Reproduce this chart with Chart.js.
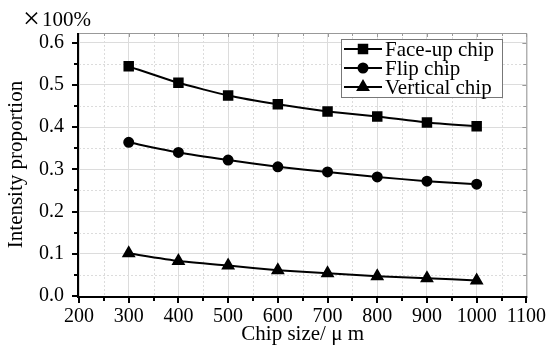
<!DOCTYPE html>
<html>
<head>
<meta charset="utf-8">
<script src="https://cdn.jsdelivr.net/npm/chart.js@4/dist/chart.umd.min.js"></script>
<style>
  html, body { margin: 0; padding: 0; background: #fff; }
  #wrap { width: 555px; height: 347px; }
</style>
</head>
<body>
<div id="wrap"><canvas id="Chart"></canvas></div>
<script>
// Data
const chipSizes = [300, 400, 500, 600, 700, 800, 900, 1000];
const faceUp = [0.544, 0.505, 0.475, 0.454, 0.437, 0.425, 0.411, 0.402];
const flipChip = [0.364, 0.340, 0.322, 0.306, 0.294, 0.282, 0.272, 0.265];
const verticalChip = [0.101, 0.083, 0.072, 0.061, 0.054, 0.047, 0.042, 0.037];
const seriesNames = ['Face-up chip', 'Flip chip', 'Vertical chip'];
const xTicks = [200, 300, 400, 500, 600, 700, 800, 900, 1000, 1100];
const yTicks = [0.0, 0.1, 0.2, 0.3, 0.4, 0.5, 0.6];

const FONT = '"Liberation Serif", "Times New Roman", serif';

function pts(ys) {
  return chipSizes.map((x, i) => ({ x: x, y: ys[i] }));
}

function series(label, ys, style, radius) {
  return {
    label: label,
    data: pts(ys),
    borderColor: '#000',
    backgroundColor: '#000',
    borderWidth: 2,
    pointStyle: style,
    pointRadius: radius,
    pointHoverRadius: radius,
    tension: 0.15
  };
}

// frame, minor grid, ticks, legend, extra labels
const decor = {
  id: 'decor',
  beforeDatasetsDraw(chart) {
    const { ctx, chartArea: a, scales: { x, y } } = chart;
    ctx.save();
    ctx.strokeStyle = '#dcdcdc';
    ctx.lineWidth = 1;
    ctx.setLineDash([2, 2]);
    for (let v = 250; v < 1100; v += 100) {
      const px = Math.round(x.getPixelForValue(v)) + 0.5;
      ctx.beginPath(); ctx.moveTo(px, a.top); ctx.lineTo(px, a.bottom); ctx.stroke();
    }
    for (let v = 0.05; v < 0.62; v += 0.1) {
      const py = Math.round(y.getPixelForValue(v)) + 0.5;
      ctx.beginPath(); ctx.moveTo(a.left, py); ctx.lineTo(a.right, py); ctx.stroke();
    }
    ctx.restore();
  },
  afterDraw(chart) {
    const { ctx, chartArea: a, scales: { x, y } } = chart;
    ctx.save();
    // top / right frame in gray
    ctx.strokeStyle = '#999';
    ctx.lineWidth = 1;
    ctx.beginPath();
    ctx.moveTo(a.left, a.top + 0.5); ctx.lineTo(a.right + 0.5, a.top + 0.5);
    ctx.lineTo(a.right + 0.5, a.bottom);
    ctx.stroke();
    // inward gray ticks on top and right
    for (let v = 250; v <= 1100; v += 50) {
      const px = Math.round(x.getPixelForValue(v)) + 0.5;
      ctx.beginPath(); ctx.moveTo(px, a.top); ctx.lineTo(px, a.top + (v % 100 === 0 ? 4 : 3)); ctx.stroke();
    }
    for (let i = 1; i <= 12; i++) {
      const v = i * 0.05;
      const py = Math.round(y.getPixelForValue(v)) + 0.5;
      ctx.beginPath(); ctx.moveTo(a.right, py); ctx.lineTo(a.right - (i % 2 === 0 ? 4 : 3), py); ctx.stroke();
    }
    // black left / bottom axes with outward ticks
    ctx.strokeStyle = '#000';
    ctx.lineWidth = 2;
    ctx.beginPath();
    ctx.moveTo(a.left - 1, a.top); ctx.lineTo(a.left - 1, a.bottom + 1); ctx.lineTo(a.right + 1, a.bottom + 1);
    ctx.stroke();
    for (let v = 200; v <= 1100; v += 50) {
      const px = Math.round(x.getPixelForValue(v));
      ctx.beginPath(); ctx.moveTo(px, a.bottom); ctx.lineTo(px, a.bottom + (v % 100 === 0 ? 7 : 5)); ctx.stroke();
    }
    for (let i = 0; i <= 12; i++) {
      const v = i * 0.05;
      const py = Math.round(y.getPixelForValue(v));
      ctx.beginPath(); ctx.moveTo(a.left, py); ctx.lineTo(a.left - (i % 2 === 0 ? 7 : 5), py); ctx.stroke();
    }

    // legend
    const lx = 341, ly = 39, lw = 161, lh = 58;
    ctx.fillStyle = '#fff';
    ctx.fillRect(lx, ly, lw, lh);
    ctx.strokeStyle = '#777';
    ctx.lineWidth = 1;
    ctx.strokeRect(lx + 0.5, ly + 0.5, lw, lh);
    ctx.font = '21px ' + FONT;
    ctx.textBaseline = 'middle';
    ctx.textAlign = 'left';
    chart.data.datasets.forEach((ds, i) => {
      const cy = ly + 10 + i * 19;
      ctx.strokeStyle = '#000';
      ctx.lineWidth = 2;
      ctx.beginPath(); ctx.moveTo(lx + 3, cy); ctx.lineTo(lx + 41, cy); ctx.stroke();
      ctx.fillStyle = '#000';
      Chart.helpers.drawPoint(ctx, { pointStyle: ds.pointStyle, radius: ds.pointRadius, rotation: 0, borderWidth: 1 }, lx + 22, cy);
      ctx.fillText(ds.label, lx + 44, cy + 1);
    });

    // unit label
    ctx.fillStyle = '#000';
    ctx.textAlign = 'left';
    ctx.textBaseline = 'alphabetic';
    ctx.font = '30px ' + FONT;
    ctx.fillText('\u00d7', 23, 28);
    ctx.font = '21px ' + FONT;
    ctx.fillText('100%', 42, 26);
    ctx.restore();
  }
};

const config = {
  type: 'line',
  data: {
    datasets: [
      series(seriesNames[0], faceUp, 'rect', 6),
      series(seriesNames[1], flipChip, 'circle', 4.5),
      series(seriesNames[2], verticalChip, 'triangle', 6)
    ]
  },
  options: {
    responsive: true,
    maintainAspectRatio: false,
    animation: false,
    layout: { padding: { top: 33, right: 28, left: 4, bottom: 0 } },
    plugins: {
      legend: { display: false },
      tooltip: { enabled: false }
    },
    scales: {
      x: {
        type: 'linear',
        min: 200,
        max: 1100,
        afterBuildTicks: s => { s.ticks = xTicks.map(v => ({ value: v })); },
        afterFit: s => { s.height = 51; },
        grid: { color: '#dcdcdc', drawTicks: false, lineWidth: 1 },
        border: { display: false },
        ticks: { color: '#000', padding: 9, maxRotation: 0, font: { family: FONT, size: 20 }, callback: v => String(v) },
        title: { display: true, text: 'Chip size/ \u03bc m', color: '#000', padding: { top: 0, bottom: 0 }, font: { family: FONT, size: 21 } }
      },
      y: {
        type: 'linear',
        min: 0,
        max: 0.623,
        afterBuildTicks: s => { s.ticks = yTicks.map(v => ({ value: v })); },
        afterFit: s => { s.width = 75; },
        grid: { color: '#dcdcdc', drawTicks: false, lineWidth: 1 },
        border: { display: false },
        ticks: { color: '#000', padding: 15, font: { family: FONT, size: 20 }, callback: v => v.toFixed(1) },
        title: { display: true, text: 'Intensity proportion', color: '#000', padding: 0, font: { family: FONT, size: 21 } }
      }
    }
  },
  plugins: [decor]
};

window.addEventListener('load', () => {
  const ctx = document.getElementById('Chart');
  new Chart(ctx, config);
});
</script>
</body>
</html>
